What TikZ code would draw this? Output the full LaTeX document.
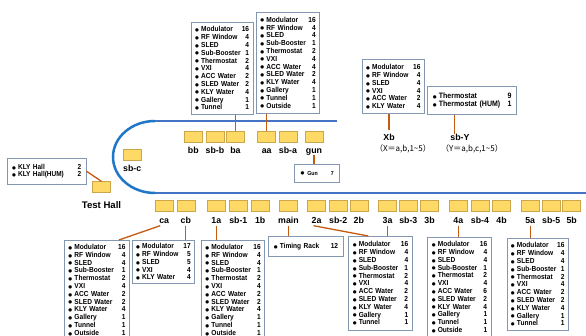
\documentclass[tikz,border=0pt]{standalone}
\usepackage{fontspec}
\setmainfont{Liberation Sans}
\newfontfamily\listfont[FakeStretch=0.9]{Liberation Sans}
\newfontfamily\cjkfont{Noto Sans CJK JP}
\newfontfamily\symfont{DejaVu Sans}
\usetikzlibrary{positioning,calc}
\setlength{\parindent}{0pt}
\definecolor{beamblue}{HTML}{4472C4}
\definecolor{arcblue}{HTML}{1F77C8}
\definecolor{yfill}{HTML}{FFD966}
\definecolor{yborder}{HTML}{C9A74A}
\definecolor{orng}{HTML}{C55A11}
\definecolor{lgray}{HTML}{8497B0}
\newcommand\dotmark{{\symfont\fontsize{4.4}{4}\selectfont\raisebox{0.3pt}{●}}}
\newcommand\li[2]{\dotmark\hspace{2.2pt}#1\hfill#2\par}
\begin{document}
\begin{tikzpicture}[x=1pt,y=1pt,
  ybox/.style={draw=yborder,fill=yfill,line width=0.6pt,minimum width=18pt,minimum height=11pt,inner sep=0pt},
  lbl/.style={font=\bfseries\fontsize{8.8}{9}\selectfont,inner sep=0pt,text height=6.5pt,text depth=1.5pt},
  thl/.style={font=\bfseries\fontsize{9.6}{10}\selectfont,inner sep=0pt,text height=7pt,text depth=2pt},
  note/.style={font=\cjkfont\fontsize{8}{9}\selectfont,inner sep=0pt},
  listbox/.style={draw=lgray,line width=0.9pt,fill=white,inner xsep=4pt,inner ysep=0pt,align=left,anchor=north west,font=\listfont\bfseries\fontsize{7.3}{7.8}\selectfont},
  lbox/.style n args={3}{listbox,minimum width=#1,text width=#2,minimum height=#3},
  conn/.style={draw=orng,line width=1.3pt},
  beam/.style={draw=beamblue,line width=2.2pt},
]
\useasboundingbox (0,0) rectangle (586,336);
\clip (0,0) rectangle (586,336);
\fill[white] (0,0) rectangle (586,336);

% beam line
\draw[beam] (337,215) -- (155,215);
\draw[beam,draw=arcblue,line width=2.5pt] (155,215) arc[start angle=90,end angle=270,x radius=42,y radius=36];
\draw[beam] (155,143) -- (590,143);

% top row boxes
\node[ybox] (bb) at (193.3,199.3) {};
\node[ybox] (sbb) at (215,199.3) {};
\node[ybox] (ba) at (235.5,199.3) {};
\node[ybox] (aa) at (266.7,199.3) {};
\node[ybox] (sba) at (288,199.3) {};
\node[ybox] (gun) at (314,199.3) {};
\foreach \n/\t in {bb/bb,sbb/sb-b,ba/ba,aa/aa,sba/sb-a,gun/gun}
  \node[lbl,below=4.5pt of \n] (\n-l) {\t};

% bottom row boxes
\foreach \n/\t/\x in {ca/ca/164.2,cb/cb/185.8,1a/1a/216.3,sb1/sb-1/238.3,1b/1b/260.2,main/main/288.5,2a/2a/316.5,sb2/sb-2/338.2,2b/2b/358.8,3a/3a/387.5,sb3/sb-3/408.3,3b/3b/429.5,4a/4a/458.3,sb4/sb-4/480,4b/4b/501.5,5a/5a/530.2,sb5/sb-5/551.2,5b/5b/571.7}{
  \node[ybox] (\n) at (\x,130.2) {};
  \node[lbl,below=5.7pt of \n] (\n-l) {\t};
}

% sb-c and Test Hall
\node[ybox] (sbc) at (132.2,180.7) {};
\node[lbl,below=3.5pt of sbc] (sbc-l) {sb-c};
\node[ybox] (TH) at (101.5,148.8) {};
\node[thl,below=8.5pt of TH] (TH-l) {Test Hall};

% legend labels
\node[lbl] (Xb-l) at (389,197.7) {Xb};
\node[note] (Xb-n) at (403,186.7) {（X＝a,b,1\string~5）};
\node[lbl] (sbY-l) at (460,197.7) {sb-Y};
\node[note] (sbY-n) at (472,186.7) {（Y＝a,b,c,1\string~5）};

% list boxes (top)
\node[lbox={62pt}{54pt}{92.3pt}] (L-ba) at (190.7,314.3) {\li{Modulator}{16}\li{RF Window}{4}\li{SLED}{4}\li{Sub-Booster}{1}\li{Thermostat}{2}\li{VXI}{4}\li{ACC Water}{2}\li{SLED Water}{2}\li{KLY Water}{4}\li{Gallery}{1}\li{Tunnel}{1}};
\node[lbox={63.3pt}{55.3pt}{101pt}] (L-aa) at (256,324.3) {\li{Modulator}{16}\li{RF Window}{4}\li{SLED}{4}\li{Sub-Booster}{1}\li{Thermostat}{2}\li{VXI}{4}\li{ACC Water}{4}\li{SLED Water}{2}\li{KLY Water}{4}\li{Gallery}{1}\li{Tunnel}{1}\li{Outside}{1}};
\node[lbox={62.3pt}{54.3pt}{54pt}] (L-Xb) at (361.7,276.7) {\li{Modulator}{16}\li{RF Window}{4}\li{SLED}{4}\li{VXI}{4}\li{ACC Water}{2}\li{KLY Water}{4}};
\node[lbox={88.7pt}{78.7pt}{28pt},font=\listfont\bfseries\fontsize{7.8}{7.8}\selectfont] (L-sbY) at (427.3,250) {\li{Thermostat}{9}\li{Thermostat (HUM)}{1}};
\node[lbox={79pt}{69pt}{26.3pt},font=\listfont\bfseries\fontsize{7.2}{7.6}\selectfont] (L-KLY) at (6.7,178.3) {\li{KLY Hall}{2}\li{KLY Hall(HUM)}{2}};
\node[listbox,minimum width=44.7pt,minimum height=17.7pt,font=\listfont\bfseries\fontsize{5.8}{6}\selectfont] (L-gun) at (294.3,172) {\dotmark\hspace{3pt}Gun\hspace{13pt}7};

% list boxes (bottom)
\node[lbox={65pt}{57pt}{99pt}] (L-ca) at (64,96) {\li{Modulator}{16}\li{RF Window}{4}\li{SLED}{4}\li{Sub-Booster}{1}\li{Thermostat}{2}\li{VXI}{4}\li{ACC Water}{2}\li{SLED Water}{2}\li{KLY Water}{4}\li{Gallery}{1}\li{Tunnel}{1}\li{Outside}{1}};
\node[lbox={62.6pt}{54.6pt}{42.7pt}] (L-cb) at (131.7,96) {\li{Modulator}{17}\li{RF Window}{5}\li{SLED}{5}\li{VXI}{4}\li{KLY Water}{4}};
\node[lbox={63.3pt}{55.3pt}{99pt}] (L-1a) at (201,96) {\li{Modulator}{16}\li{RF Window}{4}\li{SLED}{4}\li{Sub-Booster}{1}\li{Thermostat}{2}\li{VXI}{4}\li{ACC Water}{2}\li{SLED Water}{2}\li{KLY Water}{4}\li{Gallery}{1}\li{Tunnel}{1}\li{Outside}{1}};
\node[lbox={74.4pt}{64.4pt}{20pt}] (L-tr) at (268.3,100) {\li{Timing Rack}{12}};
\node[lbox={63.4pt}{55.4pt}{94pt}] (L-3a) at (348.3,100) {\li{Modulator}{16}\li{RF Window}{4}\li{SLED}{4}\li{Sub-Booster}{1}\li{Thermostat}{2}\li{VXI}{4}\li{ACC Water}{2}\li{SLED Water}{2}\li{KLY Water}{4}\li{Gallery}{1}\li{Tunnel}{1}};
\node[lbox={63.4pt}{55.4pt}{100pt}] (L-4a) at (427.3,99.3) {\li{Modulator}{16}\li{RF Window}{4}\li{SLED}{4}\li{Sub-Booster}{1}\li{Thermostat}{2}\li{VXI}{4}\li{ACC Water}{6}\li{SLED Water}{2}\li{KLY Water}{4}\li{Gallery}{1}\li{Tunnel}{1}\li{Outside}{1}};
\node[lbox={61.5pt}{53.5pt}{92pt}] (L-5a) at (506.5,98) {\li{Modulator}{16}\li{RF Window}{4}\li{SLED}{4}\li{Sub-Booster}{1}\li{Thermostat}{2}\li{VXI}{4}\li{ACC Water}{2}\li{SLED Water}{2}\li{KLY Water}{4}\li{Gallery}{1}\li{Tunnel}{1}};

% connectors
\draw[conn] (ba.north |- L-ba.south) -- (ba.north);
\draw[conn] (aa.north |- L-aa.south) -- (aa.north);
\draw[conn] (gun-l.south) -- (gun-l.south |- L-gun.north);
\draw[conn] (L-Xb.south -| Xb-l.north) -- ($(Xb-l.north)+(0,4)$);
\coordinate (sbYc) at ($(L-sbY.south)+(-17.4,0)$);
\draw[conn] (sbYc) -- (sbYc |- Xb-l.north) -- ++(0,4);
\draw[conn] (L-KLY.east) -- (TH.north);
\draw[conn] ($(ca-l.south)+(-4,0)$) -- ($(L-ca.north east)+(-11,0)$);
\draw[conn] (cb-l.south) -- (cb-l.south |- L-cb.north);
\draw[conn] (1a-l.south) -- (1a-l.south |- L-1a.north);
\draw[conn] (main-l.south) -- (main-l.south |- L-tr.north);
\draw[conn] ($(2a-l.south)+(-3,0)$) -- ($(L-3a.north west)+(20,0)$);
\draw[conn] (3a-l.south) -- (3a-l.south |- L-3a.north);
\draw[conn] (4a-l.south) -- (4a-l.south |- L-4a.north);
\draw[conn] (5a-l.south) -- (5a-l.south |- L-5a.north);
\end{tikzpicture}
\end{document}
